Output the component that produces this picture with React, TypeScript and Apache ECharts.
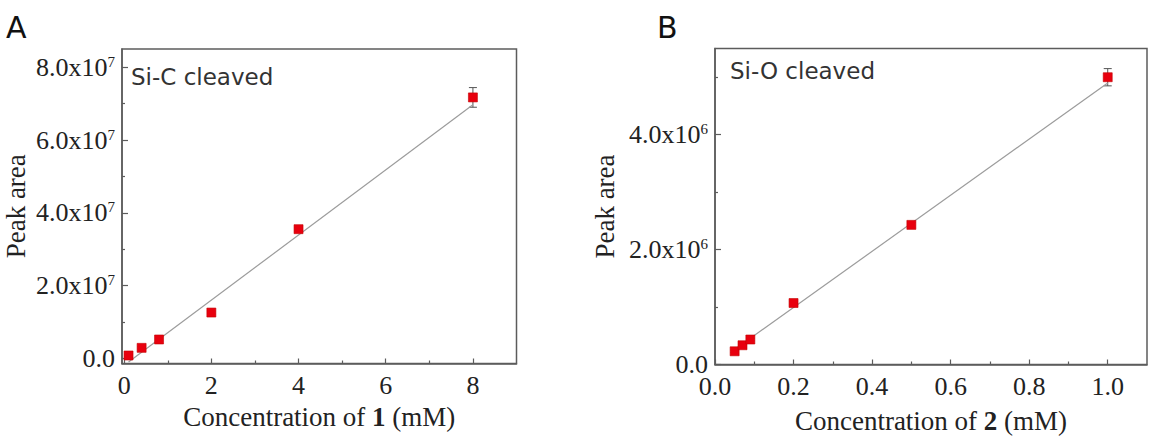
import React, { useEffect, useRef } from "react";
import * as echarts from "echarts";

// Panel A: compound 1 (Si-C cleaved)
const concA = [0.1, 0.4, 0.8, 2, 4, 8];
const areaA = [0.8e6, 2.9e6, 5.2e6, 12.6e6, 35.5e6, 71.7e6];
const errA = [0.3e6, 0.3e6, 0.3e6, 0.4e6, 0.5e6, 2.7e6];
const fitAx = [0.1, 8];
const fitAy = [-1.0e6, 69.7e6];
const xTicksA = [0, 2, 4, 6, 8];
const xMinorA = [1, 3, 5, 7];
const yTicksA = [0, 2e7, 4e7, 6e7, 8e7];
const yLabelsA = ["0.0", "2.0x10^7", "4.0x10^7", "6.0x10^7", "8.0x10^7"];
const yMinorA = [1e7, 3e7, 5e7, 7e7];

// Panel B: compound 2 (Si-O cleaved)
const concB = [0.05, 0.07, 0.09, 0.2, 0.5, 1.0];
const areaB = [0.23e6, 0.335e6, 0.435e6, 1.07e6, 2.43e6, 5.0e6];
const errB = [0.02e6, 0.02e6, 0.02e6, 0.03e6, 0.04e6, 0.15e6];
const fitBx = [0.05, 1.0];
const fitBy = [0.26e6, 4.9e6];
const xTicksB = [0, 0.2, 0.4, 0.6, 0.8, 1.0];
const xLabelsB = ["0.0", "0.2", "0.4", "0.6", "0.8", "1.0"];
const xMinorB = [0.1, 0.3, 0.5, 0.7, 0.9];
const yTicksB = [0, 2e6, 4e6];
const yLabelsB = ["0.0", "2.0x10^6", "4.0x10^6"];
const yMinorB = [1e6, 3e6, 5e6];

const SERIF = "Liberation Serif";
const SANS = "DejaVu Sans";
const AXIS_COLOR = "#5c5c5c";
const TEXT_COLOR = "#222";

function supLabel(s: string) {
  const i = s.indexOf("^");
  if (i < 0) return `{a|${s}}`;
  return `{a|${s.slice(0, i)}}{s|${s.slice(i + 1)}}`;
}

const labelRich = {
  a: { fontFamily: SERIF, fontSize: 26, color: TEXT_COLOR, lineHeight: 26 },
  s: { fontFamily: SERIF, fontSize: 15, color: TEXT_COLOR, lineHeight: 15, verticalAlign: "top" as const },
};

function majorAxis(
  gridIndex: number,
  min: number,
  max: number,
  ticks: number[],
  labels: string[],
  isY: boolean,
  name: string,
  nameGap: number,
  tickLen: number
) {
  return {
    type: "value",
    gridIndex,
    min,
    max,
    position: isY ? "left" : "bottom",
    name,
    nameLocation: "middle",
    nameGap,
    nameTextStyle: {
      fontFamily: SERIF,
      fontSize: 27,
      color: TEXT_COLOR,
      rich: {
        n: { fontFamily: SERIF, fontSize: 27, color: TEXT_COLOR },
        b: { fontFamily: SERIF, fontSize: 27, color: TEXT_COLOR, fontWeight: "bold" },
      },
    },
    axisLine: { show: true, onZero: false, lineStyle: { color: AXIS_COLOR, width: 1.5 } },
    axisTick: {
      show: true,
      inside: true,
      length: tickLen,
      customValues: ticks,
      lineStyle: { color: AXIS_COLOR, width: 1.2 },
    },
    axisLabel: {
      show: true,
      margin: isY ? 7 : 9,
      customValues: ticks,
      formatter: (v: number) => {
        let idx = ticks.findIndex((t) => Math.abs(t - v) < 1e-9 * Math.max(1, Math.abs(t)));
        return supLabel(idx >= 0 ? labels[idx] : "");
      },
      rich: labelRich,
    },
    splitLine: { show: false },
  };
}

function minorAxis(gridIndex: number, min: number, max: number, ticks: number[], isY: boolean) {
  return {
    type: "value",
    gridIndex,
    min,
    max,
    position: isY ? "left" : "bottom",
    axisLine: { show: false, onZero: false },
    axisTick: {
      show: true,
      inside: true,
      length: 3,
      customValues: ticks,
      lineStyle: { color: AXIS_COLOR, width: 1.2 },
    },
    axisLabel: { show: false },
    splitLine: { show: false },
  };
}

function errorSeries(xAxisIndex: number, yAxisIndex: number, xs: number[], ys: number[], es: number[]) {
  return {
    type: "custom",
    xAxisIndex,
    yAxisIndex,
    z: 1,
    data: xs.map((x, i) => [x, ys[i] - es[i], ys[i] + es[i]]),
    encode: { x: 0, y: [1, 2] },
    renderItem: (_p: any, api: any) => {
      const x = api.value(0);
      const lo = api.coord([x, api.value(1)]);
      const hi = api.coord([x, api.value(2)]);
      const w = 4;
      const style = { stroke: "#555", lineWidth: 1 };
      return {
        type: "group",
        children: [
          { type: "line", shape: { x1: lo[0], y1: lo[1], x2: hi[0], y2: hi[1] }, style },
          { type: "line", shape: { x1: hi[0] - w, y1: hi[1], x2: hi[0] + w, y2: hi[1] }, style },
          { type: "line", shape: { x1: lo[0] - w, y1: lo[1], x2: lo[0] + w, y2: lo[1] }, style },
        ],
      };
    },
  };
}

function pointSeries(xAxisIndex: number, yAxisIndex: number, xs: number[], ys: number[]) {
  return {
    type: "scatter",
    xAxisIndex,
    yAxisIndex,
    z: 3,
    symbol: "rect",
    symbolSize: 9,
    itemStyle: { color: "#e8000e", borderColor: "#c40000", borderWidth: 0.6, opacity: 1 },
    data: xs.map((x, i) => [x, ys[i]]),
  };
}

function fitSeries(xAxisIndex: number, yAxisIndex: number, xs: number[], ys: number[]) {
  return {
    type: "line",
    xAxisIndex,
    yAxisIndex,
    z: 2,
    showSymbol: false,
    symbol: "none",
    lineStyle: { color: "#9c9c9c", width: 1.2 },
    data: xs.map((x, i) => [x, ys[i]]),
  };
}

export default function App() {
  const ref = useRef<HTMLDivElement>(null);
  useEffect(() => {
    if (!ref.current) return;
    const chart = echarts.init(ref.current, undefined, { renderer: "svg" });
    const gridStyle = { show: true, borderColor: AXIS_COLOR, borderWidth: 1.5, backgroundColor: "transparent", containLabel: false };
    chart.setOption({
      animation: false,
      backgroundColor: "#ffffff",
      grid: [
        { ...gridStyle, left: 122, top: 49, width: 394.5, height: 314.5 },
        { ...gridStyle, left: 715, top: 48.5, width: 432, height: 316 },
      ],
      xAxis: [
        majorAxis(0, -0.05, 9, xTicksA, xTicksA.map(String), false, "{n|Concentration of }{b|1}{n| (mM)}", 37, 5),
        minorAxis(0, -0.05, 9, xMinorA, false),
        majorAxis(1, 0, 1.1, xTicksB, xLabelsB, false, "{n|Concentration of }{b|2}{n| (mM)}", 43, 5),
        minorAxis(1, 0, 1.1, xMinorB, false),
      ],
      yAxis: [
        majorAxis(0, -1.4e6, 8.5e7, yTicksA, yLabelsA, true, "Peak area", 93, 6),
        minorAxis(0, -1.4e6, 8.5e7, yMinorA, true),
        majorAxis(1, 0, 5.5e6, yTicksB, yLabelsB, true, "Peak area", 97, 6),
        minorAxis(1, 0, 5.5e6, yMinorB, true),
      ],
      series: [
        fitSeries(0, 0, fitAx, fitAy),
        errorSeries(0, 0, concA, areaA, errA),
        pointSeries(0, 0, concA, areaA),
        fitSeries(2, 2, fitBx, fitBy),
        errorSeries(2, 2, concB, areaB, errB),
        pointSeries(2, 2, concB, areaB),
      ],
      graphic: [
        { type: "text", left: 6, top: 12, style: { text: "A", fontFamily: SANS, fontSize: 30, fill: "#111" } },
        { type: "text", left: 657, top: 12, style: { text: "B", fontFamily: SANS, fontSize: 30, fill: "#111" } },
        { type: "text", x: 131, y: 77, style: { text: "Si-C cleaved", fontFamily: SANS, fontSize: 23, fill: "#333", textVerticalAlign: "middle" } },
        { type: "text", x: 730, y: 71, style: { text: "Si-O cleaved", fontFamily: SANS, fontSize: 23, fill: "#333", textVerticalAlign: "middle" } },
      ],
    });
    return () => chart.dispose();
  }, []);
  return <div ref={ref} style={{ position: "absolute", left: 0, top: 0, width: 1167, height: 441 }} />;
}
